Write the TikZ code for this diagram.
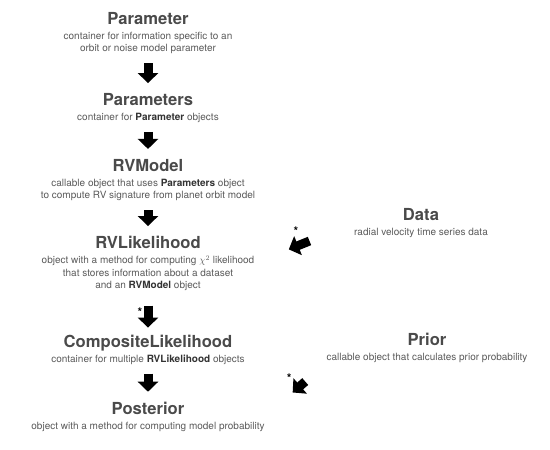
\documentclass[tikz,border=0pt]{standalone}
\usepackage{fontspec}
\setmainfont{TeX Gyre Heros}
\usetikzlibrary{arrows.meta,positioning}

\definecolor{headgray}{HTML}{4A4A4A}
\definecolor{textgray}{HTML}{5A5A5A}
\newcommand{\hd}[1]{{\fontsize{16.6}{18}\selectfont\bfseries\color{headgray}#1}}
\newcommand{\kw}[1]{{\bfseries\color{black!80}#1}}

\begin{document}
\begin{tikzpicture}[x=1pt,y=1pt,node distance=36pt,
  entry/.style={align=center,inner sep=0pt,text=textgray,font=\fontsize{10}{12.2}\selectfont},
  blk/.style={line width=9pt,-{Triangle[width=20pt,length=10pt]},shorten <=9pt,shorten >=10pt},
  ast/.style={font=\fontsize{12}{12}\selectfont\bfseries,inner sep=0pt}]
\useasboundingbox (0,0) rectangle (550,-450);
% main chain
\node[entry,anchor=north] (param) at (148,-12) {\hd{Parameter}\\[3pt] container for information specific to an\\ orbit or noise model parameter};
\node[entry,below=39pt of param] (params) {\hd{Parameters}\\[3pt] container for \kw{Parameter} objects};
\node[entry,below=36pt of params] (rvmodel) {\hd{RVModel}\\[3pt] callable object that uses \kw{Parameters} object\\ to compute RV signature from planet orbit model};
\node[entry,below=35pt of rvmodel] (rvlik) {\hd{RVLikelihood}\\[3pt] object with a method for computing $\chi^2$ likelihood\\ that stores information about a dataset\\ and an \kw{RVModel} object};
\node[entry,below=44pt of rvlik] (complik) {\hd{CompositeLikelihood}\\[3pt] container for multiple \kw{RVLikelihood} objects};
\node[entry,below=37pt of complik] (post) {\hd{Posterior}\\[3pt] object with a method for computing model probability};
% side inputs
\node[entry,anchor=north] (data) at (421,-208) {\hd{Data}\\[3pt] radial velocity time series data};
\node[entry,anchor=north] (prior) at (427,-333) {\hd{Prior}\\[3pt] callable object that calculates prior probability};
\draw[blk] (param) -- (params);
\draw[blk] (params) -- (rvmodel);
\draw[blk] (rvmodel) -- (rvlik);
\draw[blk,shorten <=15pt,shorten >=7pt] (rvlik) -- (complik);
\draw[blk] (complik) -- (post);
\draw[blk,shorten <=48pt,shorten >=37pt] (data.west) -- (rvlik.east);
\draw[blk,shorten <=28pt,shorten >=37pt] (prior.south west) -- (post.east);
\node[ast] at ([xshift=-8pt,yshift=-22pt]rvlik.south) {*};
\node[ast] at ([xshift=-58pt,yshift=-8pt]data.west) {*};
\node[ast] at ([xshift=-37pt,yshift=-15pt]prior.south west) {*};
\end{tikzpicture}
\end{document}
